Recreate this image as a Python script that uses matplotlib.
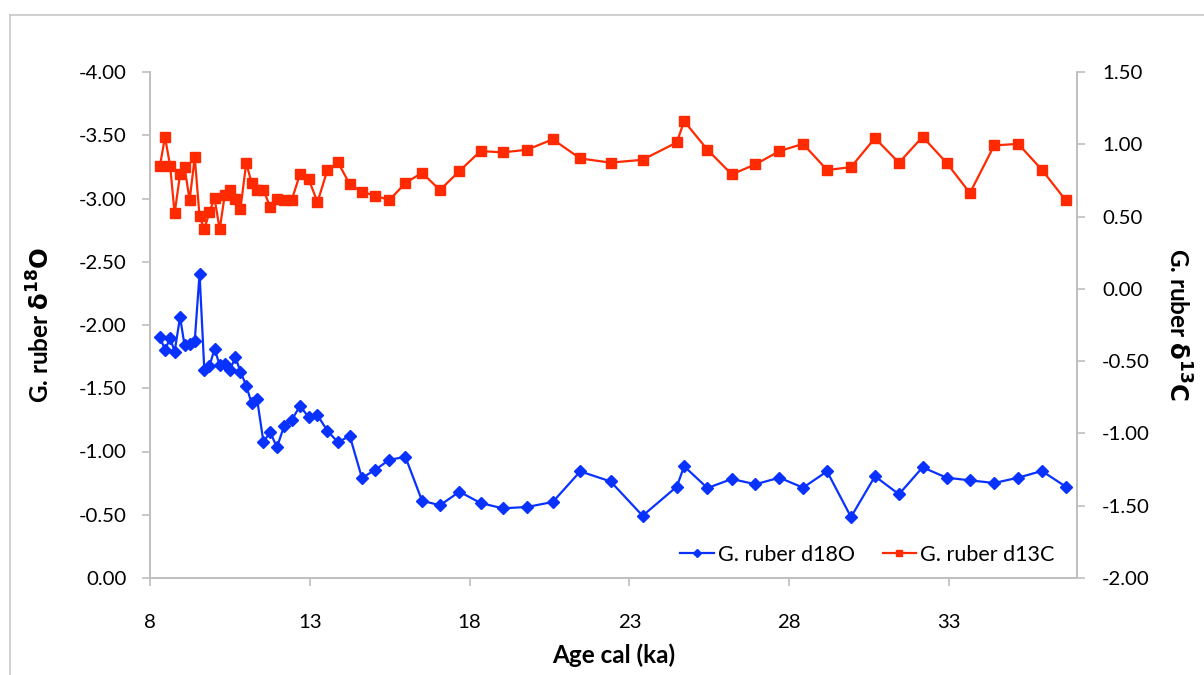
import matplotlib
matplotlib.use("Agg")
import matplotlib.pyplot as plt
from matplotlib.lines import Line2D
import numpy as np

plt.rcParams['font.family'] = ['Lato', 'DejaVu Sans']

age = [8.31, 8.47, 8.63, 8.77, 8.94, 9.08, 9.24, 9.40, 9.55, 9.70,
       9.86, 10.02, 10.18, 10.34, 10.50, 10.67, 10.83, 11.01, 11.18, 11.35,
       11.55, 11.76, 11.97, 12.20, 12.43, 12.69, 12.96, 13.24, 13.55, 13.88,
       14.25, 14.63, 15.05, 15.49, 15.99, 16.51, 17.07, 17.68, 18.34, 19.03,
       19.79, 20.60, 21.46, 22.41, 23.41, 24.48, 24.71, 25.44, 26.20, 26.94,
       27.69, 28.43, 29.18, 29.93, 30.68, 31.43, 32.17, 32.92, 33.65, 34.41,
       35.16, 35.90, 36.65]

d18O = [-1.905, -1.802, -1.897, -1.789, -2.063, -1.842, -1.852, -1.874, -2.406, -1.642,
        -1.674, -1.813, -1.681, -1.694, -1.642, -1.747, -1.631, -1.520, -1.381, -1.413,
        -1.075, -1.154, -1.033, -1.204, -1.247, -1.360, -1.273, -1.286, -1.164, -1.073,
        -1.123, -0.791, -0.856, -0.935, -0.957, -0.611, -0.575, -0.682, -0.593, -0.551,
        -0.561, -0.601, -0.843, -0.763, -0.492, -0.722, -0.883, -0.711, -0.783, -0.741,
        -0.793, -0.714, -0.843, -0.482, -0.804, -0.662, -0.875, -0.793, -0.772, -0.751,
        -0.793, -0.846, -0.722]

d13C = [0.851, 1.050, 0.851, 0.522, 0.792, 0.842, 0.614, 0.911, 0.501, 0.411,
        0.533, 0.626, 0.411, 0.651, 0.685, 0.623, 0.554, 0.870, 0.732, 0.685,
        0.685, 0.564, 0.623, 0.612, 0.612, 0.792, 0.761, 0.600, 0.822, 0.875,
        0.723, 0.672, 0.644, 0.614, 0.732, 0.803, 0.683, 0.815, 0.953, 0.944,
        0.962, 1.034, 0.902, 0.873, 0.893, 1.013, 1.160, 0.962, 0.792, 0.861,
        0.953, 1.003, 0.822, 0.842, 1.043, 0.872, 1.052, 0.872, 0.663, 0.992,
        1.003, 0.824, 0.612]

x_ticks = [8, 13, 18, 23, 28, 33]
left_ticks = [0.0, -0.5, -1.0, -1.5, -2.0, -2.5, -3.0, -3.5, -4.0]
right_ticks = [-2.0, -1.5, -1.0, -0.5, 0.0, 0.5, 1.0, 1.5]

BLUE = '#0a32ff'
RED = '#ff2a00'
AXC = '#bfbfbf'

W, H = 1204, 675
fig = plt.figure(figsize=(W / 100, H / 100), dpi=100)
L, R, T, B = 150, 1077, 72, 578
ax = fig.add_axes([L / W, 1 - B / H, (R - L) / W, (B - T) / H])
ax2 = ax.twinx()

l1, = ax.plot(age, d18O, color=BLUE, lw=1.6, marker='D', ms=6, label='G. ruber d18O')
l2, = ax2.plot(age, d13C, color=RED, lw=1.6, marker='s', ms=6.5, label='G. ruber d13C')

ax.set_xlim(8, 37)
ax.set_ylim(0, -4)
ax2.set_ylim(-2, 1.5)

ax.set_xticks(x_ticks)
ax.set_xticklabels([str(t) for t in x_ticks])
ax.set_yticks(left_ticks)
ax.set_yticklabels(['%.2f' % t for t in left_ticks])
ax2.set_yticks(right_ticks)
ax2.set_yticklabels(['%.2f' % t for t in right_ticks])

for a in (ax, ax2):
    for s in a.spines.values():
        s.set_color(AXC)
        s.set_linewidth(1.2)
    a.spines['top'].set_visible(False)
    a.tick_params(axis='both', which='both', color=AXC, length=6, width=1.2,
                  labelsize=14.7, labelcolor='black', direction='out')
ax.tick_params(axis='x', pad=20)
ax.tick_params(axis='y', pad=11)
ax2.tick_params(axis='y', pad=12)

ax.set_xlabel('Age cal (ka)', fontsize=17.5, fontweight='bold', labelpad=9)
ax.set_ylabel(r'G. ruber $\mathbf{\delta^{18}O}$', fontsize=17.5, fontweight='bold', labelpad=18)
ax2.set_ylabel(r'G. ruber $\mathbf{\delta^{13}C}$', fontsize=17.5, fontweight='bold',
               rotation=-90, labelpad=30)

leg = ax.legend(handles=[l1, l2], loc='lower right', ncol=2, frameon=False,
                fontsize=15.5, bbox_to_anchor=(0.997, -0.012), handlelength=1.55,
                columnspacing=1.3, handletextpad=0.2, markerscale=0.7)

# outer chart border
fig.add_artist(Line2D([10 / W, 10 / W], [0, 1 - 15 / H], transform=fig.transFigure,
                      color='#c8c8c8', lw=1.2))
fig.add_artist(Line2D([10 / W, 1], [1 - 15 / H, 1 - 15 / H], transform=fig.transFigure,
                      color='#c8c8c8', lw=1.2))

fig.savefig('out.png', dpi=100)
